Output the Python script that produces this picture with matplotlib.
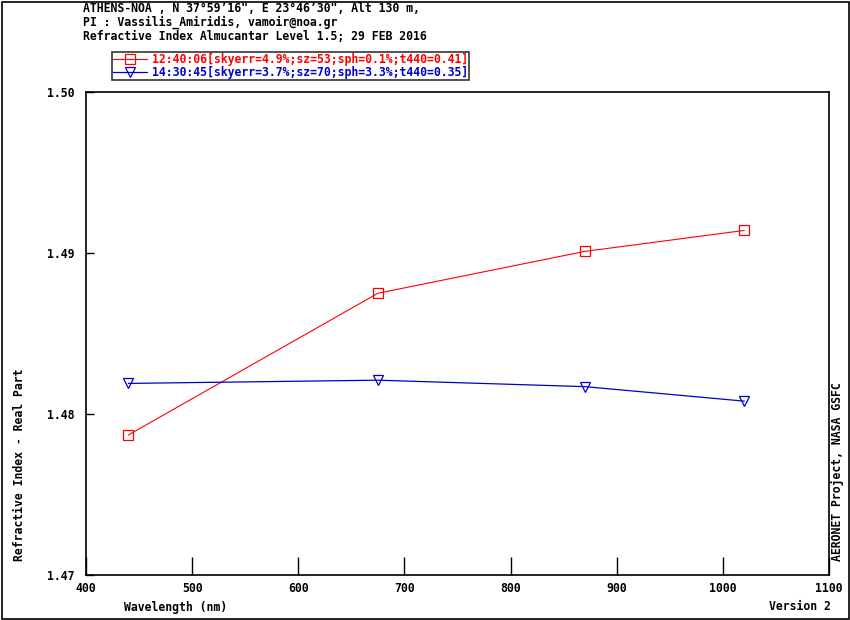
import matplotlib
matplotlib.use("Agg")
import matplotlib.pyplot as plt
from matplotlib.patches import Rectangle

# data
wavelength = [440, 675, 870, 1020]
ri_1240 = [1.4787, 1.4875, 1.4901, 1.4914]
ri_1430 = [1.4819, 1.4821, 1.4817, 1.4808]
label_1240 = "12:40:06[skyerr=4.9%;sz=53;sph=0.1%;t440=0.41]"
label_1430 = "14:30:45[skyerr=3.7%;sz=70;sph=3.3%;t440=0.35]"
xticks = [400, 500, 600, 700, 800, 900, 1000, 1100]
yticks = [1.47, 1.48, 1.49, 1.50]
title_lines = [
    "ATHENS-NOA , N 37\u00b059\u201916\", E 23\u00b046\u201930\", Alt 130 m,",
    "PI : Vassilis_Amiridis, vamoir@noa.gr",
    "Refractive Index Almucantar Level 1.5; 29 FEB 2016",
]

mono = "DejaVu Sans Mono"
fs = 8.3
W, H = 850, 620

fig = plt.figure(figsize=(8.5, 6.2), dpi=100)
fig.patches.append(Rectangle((1.5 / W, 1.5 / H), 1 - 3.0 / W, 1 - 3.0 / H,
                             transform=fig.transFigure, fill=False,
                             edgecolor="black", linewidth=1.2))

ax = fig.add_axes([86 / W, 1 - 575 / H, 743 / W, 483 / H])

ax.plot(wavelength, ri_1240, color="#ff0000", linewidth=0.8, marker="s",
        markersize=7, markerfacecolor="none", markeredgecolor="#ff0000",
        markeredgewidth=0.9, label=label_1240)
ax.plot(wavelength, ri_1430, color="#0000cc", linewidth=0.9, marker="v",
        markersize=7, markerfacecolor="none", markeredgecolor="#0000cc",
        markeredgewidth=0.9, label=label_1430)

ax.set_xlim(400, 1100)
ax.set_ylim(1.47, 1.50)
ax.set_xticks(xticks)
ax.set_yticks(yticks)
ax.set_xticklabels([str(x) for x in xticks], fontfamily=mono, fontsize=fs, fontweight="bold")
ax.set_yticklabels(["%.2f" % y for y in yticks], fontfamily=mono, fontsize=fs, fontweight="bold")
ax.tick_params(axis="x", direction="in", length=13, width=1, pad=5)
ax.tick_params(axis="y", direction="in", length=6, width=1, pad=8)
for s in ax.spines.values():
    s.set_linewidth(1.2)

fig.text(124 / W, 1 - 607 / H, "Wavelength (nm)", fontfamily=mono, fontsize=fs,
         fontweight="bold", va="center", ha="left")
fig.text(831 / W, 1 - 607 / H, "Version 2", fontfamily=mono, fontsize=fs,
         fontweight="bold", va="center", ha="right")
fig.text(20 / W, 1 - 465 / H, "Refractive Index - Real Part", fontfamily=mono,
         fontsize=fs, fontweight="bold", rotation=90, va="center", ha="center")
fig.text(837 / W, 1 - 472 / H, "AERONET Project, NASA GSFC", fontfamily=mono,
         fontsize=fs, fontweight="bold", rotation=90, va="center", ha="center")

for i, line in enumerate(title_lines):
    fig.text(83 / W, 1 - (8 + 14 * i) / H, line, fontfamily=mono, fontsize=fs,
             fontweight="bold", va="center", ha="left")

leg = fig.legend(loc="upper left", bbox_to_anchor=(112 / W, 1 - 52 / H),
                 bbox_transform=fig.transFigure,
                 prop={"family": mono, "size": fs, "weight": "bold"},
                 frameon=True, fancybox=False, edgecolor="black",
                 borderpad=0.06, borderaxespad=0, handlelength=3.0,
                 handletextpad=0.45, labelspacing=0.02, markerscale=1.0)
leg.get_frame().set_linewidth(1.2)
leg.get_texts()[0].set_color("#ff0000")
leg.get_texts()[1].set_color("#0000cc")

fig.savefig("out.png", dpi=100)
